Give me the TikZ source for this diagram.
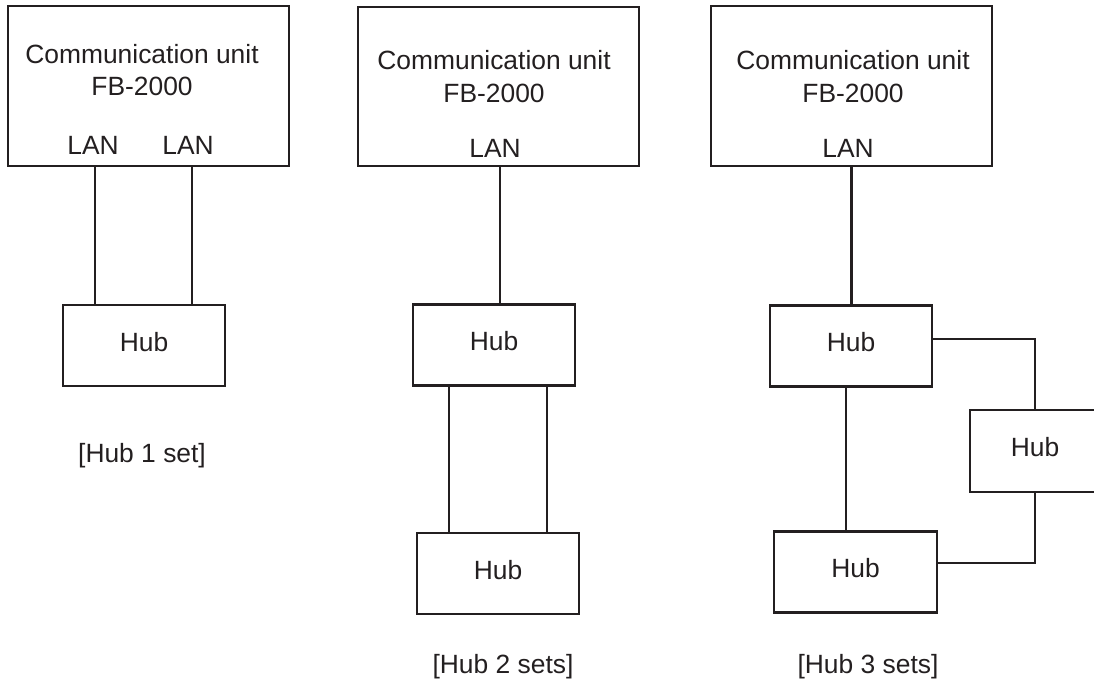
\documentclass[tikz,border=0pt]{standalone}
\usepackage{fontspec}
\setmainfont{Liberation Sans}
\usetikzlibrary{positioning,calc}
\definecolor{colInk}{RGB}{35,31,32}
\newcommand{\diagfont}{\fontsize{26.4}{31.7}\selectfont}
\tikzset{
  unitbox/.style = {rectangle, draw=colInk, line width=2.1pt,
                    minimum width=281pt, minimum height=160pt, inner sep=0pt},
  hubbox/.style  = {rectangle, draw=colInk, line width=2.1pt,
                    minimum width=162pt, minimum height=81pt, inner sep=0pt,
                    text=colInk, font=\diagfont, text height=19pt, text depth=8pt},
  txt/.style     = {anchor=base, inner sep=0pt, text=colInk, font=\diagfont},
  wire/.style    = {draw=colInk, line width=2.1pt},
}
\begin{document}
\begin{tikzpicture}[x=1pt, y=-1pt]
\useasboundingbox (0,0) rectangle (1094,681);

%% ── Hub 1 set ─────────────────────────────────────────────
\node[unitbox] (cu1) at (148.5,86) {};
\node[txt] (cu1name)  at (142,63)  {Communication unit};
\node[txt] (cu1model) at (142,95)  {FB-2000};
\node[txt] (lan1a)    at (93,154)  {LAN};
\node[txt] (lan1b)    at (188,154) {LAN};
\node[hubbox] (hub1)  at (144,345.5) {Hub};
\node[txt] (set1)     at (142,462) {[Hub 1 set]};

%% ── Hub 2 sets ────────────────────────────────────────────
\node[unitbox, minimum height=159pt] (cu2) at (498.5,86.5) {};
\node[txt] (cu2name)  at (494,69)  {Communication unit};
\node[txt] (cu2model) at (494,102) {FB-2000};
\node[txt] (lan2)     at (495,157) {LAN};
\node[hubbox] (hub2a) at (494,345)   {Hub};
\node[hubbox] (hub2b) at (498,573.5) {Hub};
\node[txt] (set2)     at (503,673) {[Hub 2 sets]};

%% ── Hub 3 sets ────────────────────────────────────────────
\node[unitbox] (cu3) at (851.5,86) {};
\node[txt] (cu3name)  at (853,69)  {Communication unit};
\node[txt] (cu3model) at (853,102) {FB-2000};
\node[txt] (lan3)     at (848,157) {LAN};
\node[hubbox] (hub3a) at (851,346)   {Hub};
\node[hubbox, minimum width=163pt] (hub3b) at (855.5,572) {Hub};
\node[hubbox, minimum width=130pt, minimum height=82pt] (hub3c) at (1035,451) {Hub};
\node[txt] (set3)     at (868,673) {[Hub 3 sets]};

%% ── Wires ─────────────────────────────────────────────────
\draw[wire] ([xshift=-49pt]hub1.north) -- ([xshift=-49pt]hub1.north |- cu1.south);
\draw[wire] ([xshift=48pt]hub1.north)  -- ([xshift=48pt]hub1.north |- cu1.south);

\draw[wire] ([xshift=1.5pt]cu2.south) -- ([xshift=1.5pt]cu2.south |- hub2a.north);
\draw[wire] ([xshift=-49pt]hub2b.north) -- ([xshift=-49pt]hub2b.north |- hub2a.south);
\draw[wire] ([xshift=49pt]hub2b.north)  -- ([xshift=49pt]hub2b.north |- hub2a.south);

\draw[wire] (cu3.south) -- (cu3.south |- hub3a.north);
\draw[wire] ([xshift=-5pt]hub3a.south) -- ([xshift=-5pt]hub3a.south |- hub3b.north);
\draw[wire] ([yshift=7pt]hub3a.east) -| (hub3c.north);
\draw[wire] (hub3c.south) |- ([yshift=9pt]hub3b.east);

\end{tikzpicture}
\end{document}
